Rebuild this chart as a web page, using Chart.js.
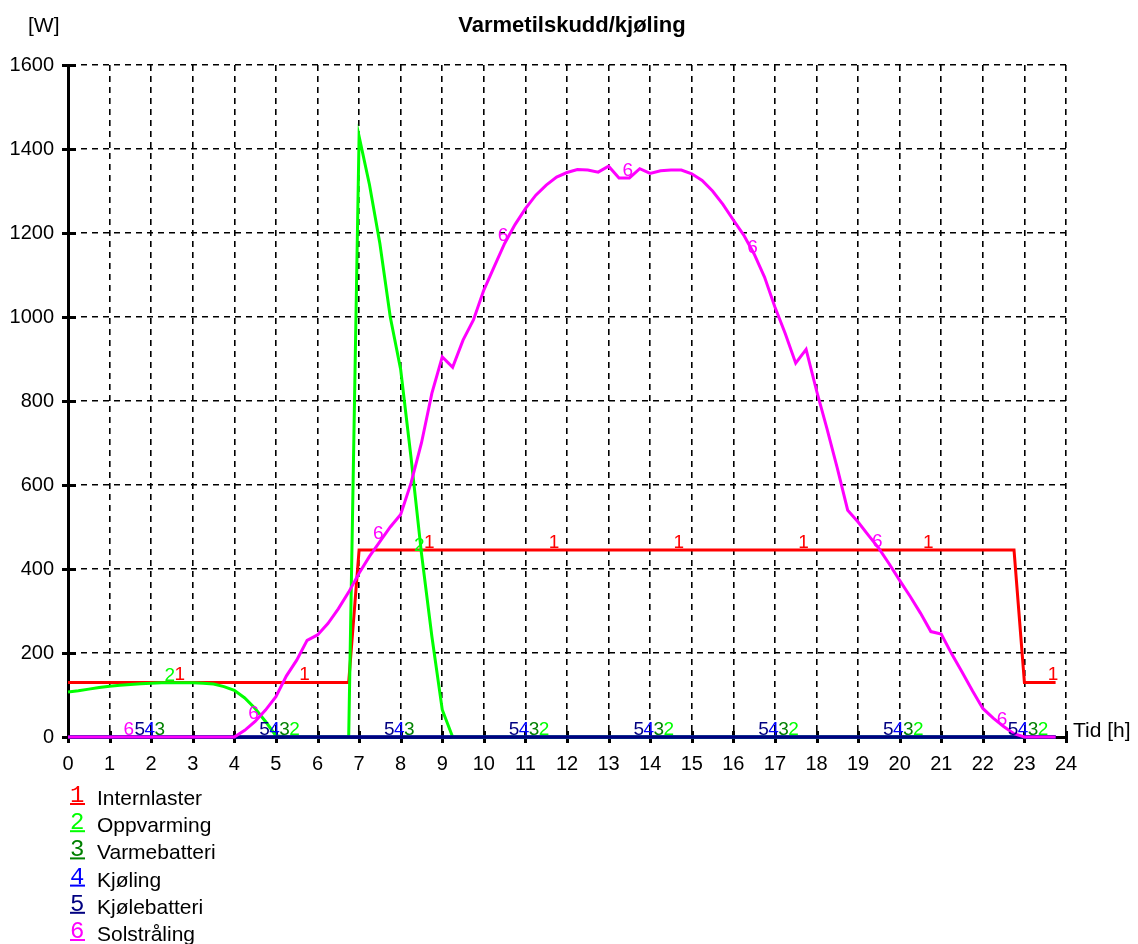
<!DOCTYPE html>
<html>
<head>
<meta charset="utf-8">
<title>Varmetilskudd/kjøling</title>
<script src="https://cdn.jsdelivr.net/npm/chart.js@4.4.0/dist/chart.umd.min.js"></script>
<style>
  html, body { margin: 0; padding: 0; background: #fff; }
  #chart { display: block; }
</style>
</head>
<body>
<canvas id="chart" width="1138" height="944"></canvas>
<script>
// time axis: quarter hours 0 .. 23.75
const hours = Array.from({ length: 96 }, (_, i) => i / 4);

// 1 Internlaster (own break points)
const internHours = [0, 6.75, 7, 22.75, 23, 23.75];
const internlaster = [130, 130, 445, 445, 130, 130];

// 2 Oppvarming
const oppvarming = [
  107, 110, 114, 118, 121, 123, 125, 127,
  128, 129, 129, 129, 129, 128, 126, 120,
  111, 93, 68, 37, 3, 0, 0, 0,
  0, 0, 0, 0, 1430, 1315, 1175, 1000,
  875, 665, 437, 240, 65, 0, 0, 0,
  0, 0, 0, 0, 0, 0, 0, 0,
  0, 0, 0, 0, 0, 0, 0, 0,
  0, 0, 0, 0, 0, 0, 0, 0,
  0, 0, 0, 0, 0, 0, 0, 0,
  0, 0, 0, 0, 0, 0, 0, 0,
  0, 0, 0, 0, 0, 0, 0, 0,
  0, 0, 0, 0, 0, 0, 0, 0
];

// 3, 4, 5 stay at zero all day
const flatHours = [0, 23.75];
const varmebatteri = [0, 0];
const kjoling = [0, 0];
const kjolebatteri = [0, 0];

// 6 Solstråling
const solstraling = [
  0, 0, 0, 0, 0, 0, 0, 0,
  0, 0, 0, 0, 0, 0, 0, 0,
  0, 16, 37, 64, 96, 145, 183, 230,
  243, 270, 305, 345, 390, 430, 465, 500,
  530, 605, 700, 818, 905, 880, 945, 993,
  1064, 1120, 1175, 1220, 1258, 1290, 1314, 1333,
  1344, 1351, 1350, 1345, 1359, 1331, 1331, 1353,
  1342, 1348, 1350, 1350, 1341, 1325, 1300, 1268,
  1231, 1195, 1150, 1095, 1024, 960, 890, 923,
  825, 735, 640, 540, 512, 480, 449, 412,
  373, 335, 295, 251, 245, 198, 155, 110,
  68, 45, 25, 8, 0, 0, 0, 0
];

const seriesNames = ['Internlaster', 'Oppvarming', 'Varmebatteri', 'Kjøling', 'Kjølebatteri', 'Solstråling'];
const seriesColors = ['#ff0000', '#00ff00', '#008000', '#0000ff', '#000080', '#ff00ff'];

// where the little series numbers are written along the curves
const labelHours = [2.69, 5.69, 8.69, 11.69, 14.69, 17.69, 20.69, 23.69];
const labelShift = [0, -10, -20, -30, -40, -51];

function pts(xs, ys) {
  return xs.map((x, i) => ({ x: x, y: ys[i] }));
}

const seriesData = [
  pts(internHours, internlaster),
  pts(hours, oppvarming),
  pts(flatHours, varmebatteri),
  pts(flatHours, kjoling),
  pts(flatHours, kjolebatteri),
  pts(hours, solstraling)
];

function valueAt(data, h) {
  for (let i = 1; i < data.length; i++) {
    if (h <= data[i].x) {
      let a = data[i - 1], b = data[i];
      return a.y + (b.y - a.y) * (h - a.x) / (b.x - a.x);
    }
  }
  return data[data.length - 1].y;
}

const font = 'Liberation Sans';

const decor = {
  id: 'decor',
  beforeDatasetsDraw(chart) {
    const { ctx, chartArea, scales: { x, y } } = chart;
    ctx.save();
    ctx.strokeStyle = '#000';
    ctx.lineWidth = 3;
    x.ticks.forEach(t => {
      let px = Math.round(x.getPixelForValue(t.value)) + 0.5;
      ctx.beginPath();
      ctx.moveTo(px, chartArea.bottom - 6);
      ctx.lineTo(px, chartArea.bottom + 6);
      ctx.stroke();
    });
    y.ticks.forEach(t => {
      let py = Math.round(y.getPixelForValue(t.value)) + 0.5;
      ctx.beginPath();
      ctx.moveTo(chartArea.left - 6, py);
      ctx.lineTo(chartArea.left + 8, py);
      ctx.stroke();
    });
    ctx.restore();
  },
  afterDatasetsDraw(chart) {
    const { ctx, scales: { x, y } } = chart;
    ctx.save();
    ctx.font = '19px "' + font + '"';
    ctx.textAlign = 'center';
    ctx.textBaseline = 'alphabetic';
    for (let i = seriesData.length - 1; i >= 0; i--) {
      ctx.fillStyle = seriesColors[i];
      labelHours.forEach(h => {
        let px = x.getPixelForValue(h) + labelShift[i];
        let v = valueAt(seriesData[i], x.getValueForPixel(px + 2));
        let py = y.getPixelForValue(v);
        ctx.fillText(String(i + 1), px, py - 2);
      });
    }
    ctx.restore();
  },
  afterDraw(chart) {
    const ctx = chart.ctx;
    ctx.save();
    ctx.fillStyle = '#000';
    ctx.textBaseline = 'alphabetic';
    ctx.font = 'bold 22px "' + font + '"';
    ctx.textAlign = 'center';
    ctx.fillText('Varmetilskudd/kjøling', 572, 32);
    ctx.font = '21px "' + font + '"';
    ctx.textAlign = 'left';
    ctx.fillText('[W]', 28, 32);
    ctx.fillText('Tid [h]', 1073, 737);

    // legend
    for (let i = 0; i < seriesNames.length; i++) {
      let base = 805 + i * 27.2;
      ctx.fillStyle = seriesColors[i];
      ctx.font = '24px "Liberation Mono"';
      ctx.fillText(String(i + 1), 70, base - 3);
      ctx.fillRect(70, base - 2, 15, 2);
      ctx.fillStyle = '#000';
      ctx.font = '21px "' + font + '"';
      ctx.fillText(seriesNames[i], 97, base);
    }
    ctx.restore();
  }
};

new Chart(document.getElementById('chart'), {
  type: 'line',
  data: {
    datasets: seriesData.map((d, i) => ({
      label: seriesNames[i],
      data: d,
      borderColor: seriesColors[i],
      backgroundColor: seriesColors[i],
      borderWidth: 3,
      pointRadius: 0,
      tension: 0,
      fill: false,
      clip: false,
      order: 6 - i
    }))
  },
  options: {
    responsive: false,
    animation: false,
    devicePixelRatio: 1,
    parsing: false,
    layout: { padding: { left: 0, top: 65, right: 72, bottom: 0 } },
    plugins: {
      legend: { display: false },
      tooltip: { enabled: false },
      title: { display: false }
    },
    scales: {
      x: {
        type: 'linear',
        min: 0,
        max: 24,
        ticks: { stepSize: 1, color: '#000', font: { family: font, size: 20 }, padding: 15, maxRotation: 0, autoSkip: false, callback: v => String(v) },
        grid: { color: '#000', lineWidth: 1.6, drawTicks: false },
        border: { display: true, color: '#000', width: 3, dash: [6, 5] },
        afterFit(s) { s.height = 944 - 737; }
      },
      y: {
        type: 'linear',
        min: 0,
        max: 1600,
        ticks: { stepSize: 200, color: '#000', font: { family: font, size: 20 }, padding: 14, callback: v => String(v) },
        grid: { color: '#000', lineWidth: 1.6, drawTicks: false },
        border: { display: true, color: '#000', width: 3, dash: [6, 5] },
        afterFit(s) { s.width = 68; }
      }
    }
  },
  plugins: [decor]
});
</script>
</body>
</html>
